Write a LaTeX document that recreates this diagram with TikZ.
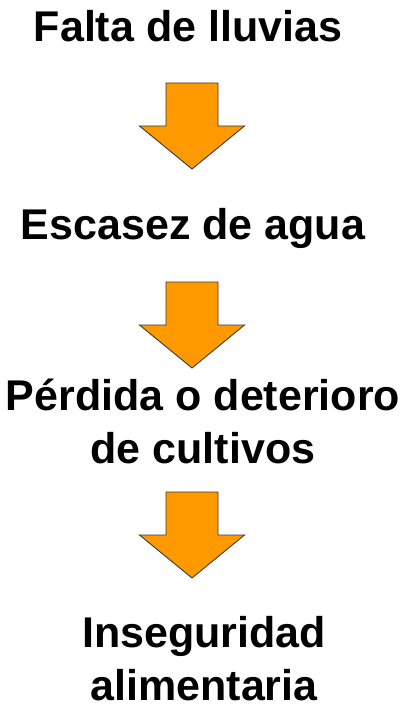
\documentclass[tikz,border=0pt]{standalone}
\usepackage{fontspec}
\setmainfont{Liberation Sans}
\definecolor{arroworange}{HTML}{FF9900}
\definecolor{arrowedge}{HTML}{3A3A3A}
\begin{document}
\begin{tikzpicture}[x=1pt,y=-1pt,
  label/.style={font=\fontsize{43}{53}\selectfont\bfseries, inner sep=0pt, anchor=base, align=center},
  blockarrow/.pic={\draw[fill=arroworange, draw=arrowedge, line width=0.9pt, line join=miter]
     (-26,0) -- (26,0) -- (26,43) -- (52.5,43) -- (0,86) -- (-52.5,43) -- (-26,43) -- cycle;}]
\useasboundingbox (0,0) rectangle (408,711);
\node[label] (t1) at (188,42) {Falta de lluvias};
\node[label] (t2) at (193,240) {Escasez de agua};
\node[label] (t3) at (203,463) {Pérdida o deterioro\\de cultivos};
\node[label] (t4) at (204,700) {Inseguridad\\alimentaria};
\coordinate (a1) at (192,83);
\coordinate (a2) at (192,282);
\coordinate (a3) at (192,492);
\pic at (a1) {blockarrow};
\pic at (a2) {blockarrow};
\pic at (a3) {blockarrow};
\end{tikzpicture}
\end{document}
